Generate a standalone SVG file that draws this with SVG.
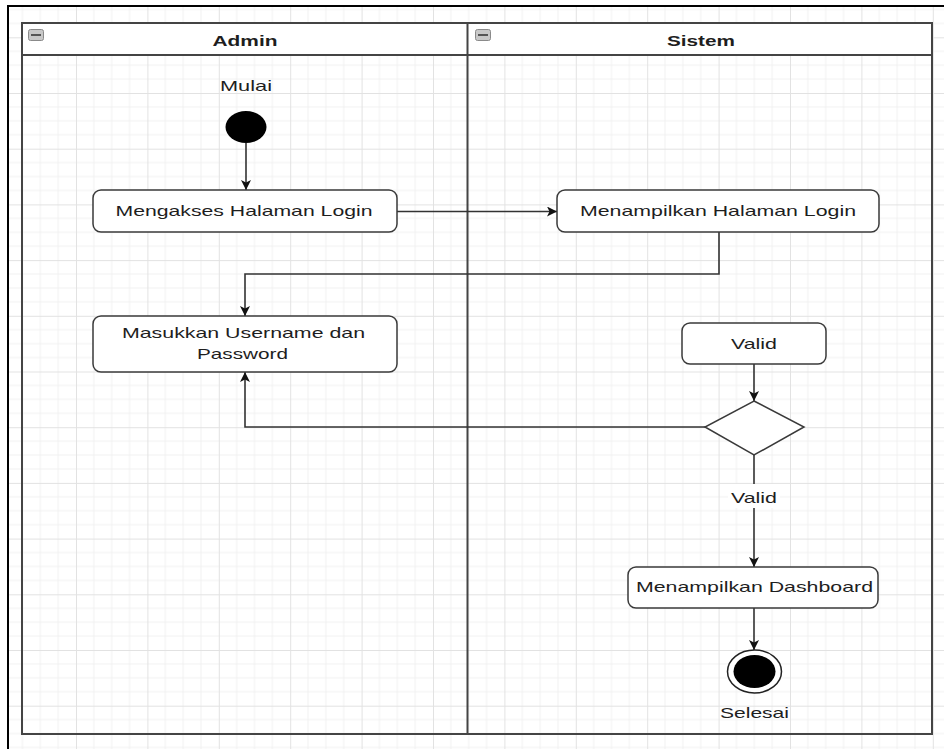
<svg xmlns="http://www.w3.org/2000/svg" width="944" height="749" viewBox="0 0 944 749">
  <defs>
    <pattern id="grid" patternUnits="userSpaceOnUse" x="4.6" y="37.3" width="71.4" height="55.7">
      <path d="M17.85 0V55.7M35.7 0V55.7M53.55 0V55.7M0 13.93H71.4M0 27.85H71.4M0 41.78H71.4" stroke="#f1f1f1" stroke-width="1" fill="none"/>
      <path d="M0.5 0V55.7M0 0.5H71.4" stroke="#e2e2e2" stroke-width="1" fill="none"/>
    </pattern>
    <marker id="arrow" viewBox="0 0 10 10" refX="10" refY="5" markerWidth="10" markerHeight="10" markerUnits="userSpaceOnUse" orient="auto">
      <path d="M0 0L10 5L0 10L2.5 5Z" fill="#111"/>
    </marker>
    <style>
      text { font-family: "Liberation Sans", Arial, sans-serif; font-size: 15px; fill: #1e1e1e; text-anchor: middle; }
      .head { font-weight: bold; }
      .box { fill: #ffffff; stroke: #3a3a3a; stroke-width: 1.5; }
      .edge { fill: none; stroke: #333333; stroke-width: 1.6; }
      .lane { fill: none; stroke: #444444; stroke-width: 2; }
      .icon { fill: #c8c8c8; stroke: #8a8a8a; stroke-width: 1; }
    </style>
  </defs>

  <!-- canvas -->
  <rect x="0" y="0" width="944" height="749" fill="#ffffff"/>
  <rect x="8" y="6" width="936" height="743" fill="url(#grid)"/>
  <path d="M8 749V6H944" fill="none" stroke="#000000" stroke-width="2"/>

  <!-- swimlane pool -->
  <g id="pool">
    <rect x="22" y="23" width="910" height="32" fill="#ffffff"/>
    <rect class="lane" x="22" y="23" width="910" height="711"/>
    <line class="lane" x1="22" y1="55" x2="932" y2="55"/>
    <line class="lane" x1="467.5" y1="23" x2="467.5" y2="734"/>
    <g id="lane-admin">
      <rect class="icon" x="28.5" y="29.5" width="15" height="11" rx="2"/>
      <line x1="31" y1="35" x2="41" y2="35" stroke="#555" stroke-width="2"/>
      <text class="head" x="245" y="46" textLength="65" lengthAdjust="spacingAndGlyphs">Admin</text>
    </g>
    <g id="lane-sistem">
      <rect class="icon" x="475.5" y="29.5" width="15" height="11" rx="2"/>
      <line x1="478" y1="35" x2="488" y2="35" stroke="#555" stroke-width="2"/>
      <text class="head" x="701" y="46" textLength="68" lengthAdjust="spacingAndGlyphs">Sistem</text>
    </g>
  </g>

  <!-- connectors -->
  <g id="connectors">
    <path class="edge" d="M246 143V190" marker-end="url(#arrow)"/>
    <path class="edge" d="M397 211.5H557" marker-end="url(#arrow)"/>
    <path class="edge" d="M719 232V274H245V316" marker-end="url(#arrow)"/>
    <path class="edge" d="M754 364V401" marker-end="url(#arrow)"/>
    <path class="edge" d="M705 427H245V372" marker-end="url(#arrow)"/>
    <path class="edge" d="M754 455V567" marker-end="url(#arrow)"/>
    <path class="edge" d="M754 608V650" marker-end="url(#arrow)"/>
    <g id="label-valid">
      <rect x="728" y="484" width="52" height="24" fill="#ffffff"/>
      <text x="754" y="503" textLength="46" lengthAdjust="spacingAndGlyphs">Valid</text>
    </g>
  </g>

  <!-- start -->
  <g id="start">
    <text x="246" y="91" textLength="52" lengthAdjust="spacingAndGlyphs">Mulai</text>
    <ellipse cx="246" cy="127" rx="20.5" ry="16" fill="#000000"/>
  </g>

  <g id="akses-login">
    <rect class="box" x="93" y="190" width="304" height="42" rx="8"/>
    <text x="244" y="216" textLength="257" lengthAdjust="spacingAndGlyphs">Mengakses Halaman Login</text>
  </g>

  <g id="tampil-login">
    <rect class="box" x="557" y="190" width="322" height="42" rx="8"/>
    <text x="718" y="216" textLength="276" lengthAdjust="spacingAndGlyphs">Menampilkan Halaman Login</text>
  </g>

  <g id="masukkan">
    <rect class="box" x="93" y="316" width="304" height="56" rx="8"/>
    <text x="243.5" y="338" textLength="243" lengthAdjust="spacingAndGlyphs">Masukkan Username dan</text>
    <text x="242.5" y="359" textLength="91" lengthAdjust="spacingAndGlyphs">Password</text>
  </g>

  <g id="valid">
    <rect class="box" x="682" y="323" width="144" height="41" rx="8"/>
    <text x="754" y="349" textLength="46" lengthAdjust="spacingAndGlyphs">Valid</text>
  </g>

  <g id="decision">
    <path class="box" d="M754 401L804 427L754 455L705 427Z"/>
  </g>

  <g id="dashboard">
    <rect class="box" x="628" y="567" width="250" height="41" rx="8"/>
    <text x="754.5" y="592" textLength="237" lengthAdjust="spacingAndGlyphs">Menampilkan Dashboard</text>
  </g>

  <g id="end">
    <ellipse cx="754.5" cy="671.5" rx="27" ry="21.5" fill="#ffffff" stroke="#222" stroke-width="1.5"/>
    <ellipse cx="754.5" cy="671.5" rx="21" ry="16.5" fill="#000000"/>
    <text x="754.5" y="718" textLength="69" lengthAdjust="spacingAndGlyphs">Selesai</text>
  </g>
</svg>
